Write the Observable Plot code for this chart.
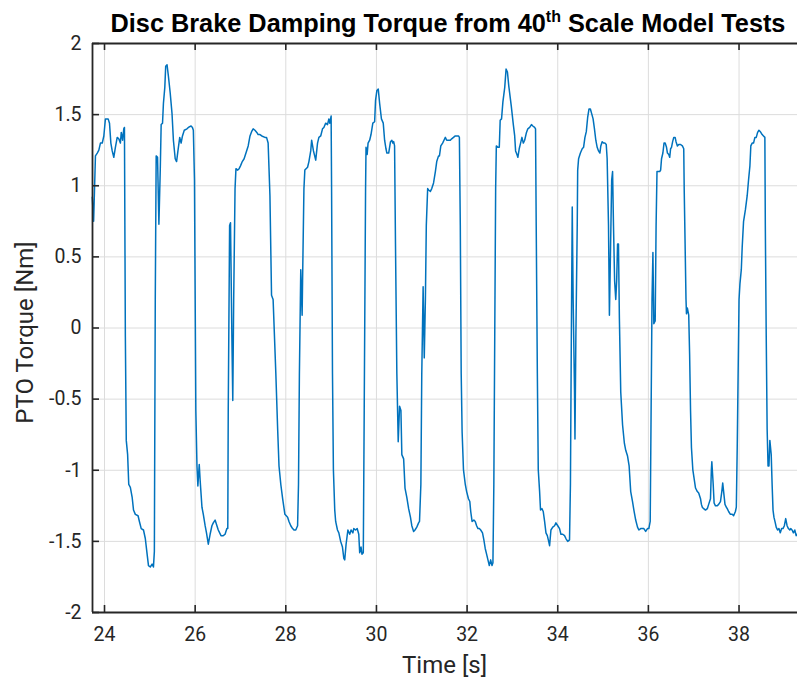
<!DOCTYPE html>
<html>
<head>
<meta charset="utf-8">
<script src="https://cdn.jsdelivr.net/npm/d3@7"></script>
<script src="https://cdn.jsdelivr.net/npm/@observablehq/plot@0.6"></script>
<style>
  html, body { margin: 0; padding: 0; background: #fff; }
  #chart svg { display: block; }
</style>
</head>
<body>
<div id="chart"></div>
<script>
const time = [
  23.73, 23.76, 23.80, 23.84, 23.875, 23.91, 23.95, 23.985, 24.02, 24.08,
  24.11, 24.14, 24.17, 24.205, 24.24, 24.28, 24.315, 24.35, 24.37, 24.40,
  24.425, 24.44, 24.46, 24.48, 24.51, 24.535, 24.57, 24.61, 24.64, 24.68,
  24.74, 24.77, 24.81, 24.86, 24.90, 24.94, 24.97, 25.01, 25.05, 25.08,
  25.10, 25.12, 25.14, 25.17, 25.20, 25.23, 25.25, 25.28, 25.30, 25.33,
  25.35, 25.38, 25.41, 25.45, 25.49, 25.52, 25.56, 25.59, 25.62, 25.66,
  25.69, 25.72, 25.76, 25.82, 25.85, 25.91, 25.94, 25.96, 25.985, 26.015,
  26.04, 26.06, 26.09, 26.11, 26.15, 26.18, 26.22, 26.25, 26.29, 26.33,
  26.37, 26.40, 26.44, 26.48, 26.51, 26.57, 26.62, 26.66, 26.70, 26.72,
  26.73, 26.76, 26.78, 26.81, 26.83, 26.85, 26.88, 26.90, 26.94, 26.97,
  27.00, 27.04, 27.08, 27.135, 27.17, 27.21, 27.245, 27.28, 27.32, 27.36,
  27.39, 27.43, 27.47, 27.54, 27.575, 27.61, 27.65, 27.685, 27.72, 27.78,
  27.82, 27.85, 27.89, 27.93, 27.98, 28.04, 28.07, 28.11, 28.15, 28.18,
  28.22, 28.26, 28.28, 28.30, 28.33, 28.36, 28.37, 28.40, 28.42, 28.48,
  28.51, 28.55, 28.57, 28.61, 28.66, 28.70, 28.73, 28.77, 28.81, 28.84,
  28.88, 28.92, 28.95, 28.97, 29.00, 29.01, 29.03, 29.05, 29.08, 29.10,
  29.14, 29.17, 29.21, 29.25, 29.28, 29.30, 29.33, 29.37, 29.41, 29.44,
  29.48, 29.50, 29.54, 29.575, 29.61, 29.63, 29.66, 29.68, 29.71, 29.73,
  29.76, 29.77, 29.795, 29.815, 29.85, 29.88, 29.92, 29.96, 29.98, 30.01,
  30.04, 30.07, 30.11, 30.15, 30.18, 30.21, 30.23, 30.27, 30.31, 30.34,
  30.36, 30.38, 30.40, 30.42, 30.45, 30.48, 30.51, 30.54, 30.56, 30.60,
  30.63, 30.67, 30.71, 30.75, 30.78, 30.82, 30.85, 30.89, 30.93, 30.95,
  30.98, 31.00, 31.03, 31.055, 31.08, 31.10, 31.13, 31.15, 31.19, 31.22,
  31.26, 31.30, 31.33, 31.37, 31.39, 31.42, 31.46, 31.49, 31.52, 31.55,
  31.59, 31.63, 31.66, 31.70, 31.74, 31.77, 31.81, 31.83, 31.85, 31.87,
  31.89, 31.92, 31.96, 31.99, 32.03, 32.06, 32.08, 32.11, 32.15, 32.18,
  32.21, 32.24, 32.27, 32.30, 32.34, 32.37, 32.40, 32.43, 32.46, 32.49,
  32.52, 32.55, 32.57, 32.59, 32.61, 32.63, 32.645, 32.68, 32.71, 32.73,
  32.76, 32.79, 32.83, 32.86, 32.89, 32.92, 32.975, 33.02, 33.05, 33.07,
  33.10, 33.12, 33.15, 33.18, 33.21, 33.24, 33.27, 33.31, 33.34, 33.38,
  33.42, 33.45, 33.49, 33.51, 33.525, 33.55, 33.57, 33.60, 33.62, 33.65,
  33.68, 33.71, 33.74, 33.77, 33.80, 33.82, 33.85, 33.89, 33.93, 33.96,
  34.00, 34.04, 34.07, 34.11, 34.15, 34.18, 34.22, 34.26, 34.28, 34.30,
  34.32, 34.34, 34.37, 34.38, 34.40, 34.43, 34.44, 34.46, 34.50, 34.54,
  34.57, 34.60, 34.63, 34.66, 34.69, 34.72, 34.75, 34.78, 34.81, 34.84,
  34.87, 34.90, 34.93, 34.95, 34.98, 35.01, 35.04, 35.07, 35.09, 35.12,
  35.14, 35.16, 35.19, 35.21, 35.23, 35.255, 35.28, 35.30, 35.32, 35.34,
  35.36, 35.39, 35.43, 35.47, 35.50, 35.54, 35.575, 35.61, 35.65, 35.68,
  35.72, 35.76, 35.79, 35.83, 35.87, 35.90, 35.94, 35.98, 36.01, 36.04,
  36.06, 36.08, 36.10, 36.12, 36.15, 36.17, 36.19, 36.22, 36.25, 36.27,
  36.29, 36.32, 36.345, 36.37, 36.40, 36.42, 36.45, 36.47, 36.49, 36.51,
  36.535, 36.56, 36.59, 36.61, 36.64, 36.67, 36.71, 36.75, 36.78, 36.79,
  36.81, 36.83, 36.84, 36.86, 36.89, 36.91, 36.93, 36.95, 36.98, 37.01,
  37.04, 37.08, 37.11, 37.15, 37.17, 37.19, 37.22, 37.26, 37.30, 37.33,
  37.37, 37.39, 37.40, 37.43, 37.45, 37.48, 37.52, 37.55, 37.59, 37.62,
  37.64, 37.66, 37.69, 37.72, 37.74, 37.77, 37.81, 37.85, 37.88, 37.92,
  37.94, 37.96, 37.98, 38.00, 38.02, 38.05, 38.07, 38.10, 38.14, 38.18,
  38.21, 38.24, 38.26, 38.29, 38.32, 38.35, 38.38, 38.41, 38.44, 38.47,
  38.51, 38.54, 38.57, 38.58, 38.60, 38.62, 38.64, 38.66, 38.68, 38.71,
  38.73, 38.75, 38.77, 38.80, 38.82, 38.85, 38.88, 38.91, 38.94, 38.97,
  39.00, 39.03, 39.06, 39.09, 39.12, 39.14, 39.17, 39.20, 39.23, 39.26,
  39.28
];
const torque = [
  0.92, 0.75, 1.21, 1.23, 1.25, 1.30, 1.30, 1.35, 1.47, 1.47,
  1.44, 1.30, 1.245, 1.20, 1.27, 1.34, 1.33, 1.30, 1.375, 1.32,
  1.40, 1.41, -0.06, -0.79, -0.89, -1.10, -1.12, -1.19, -1.28, -1.31,
  -1.32, -1.36, -1.41, -1.42, -1.48, -1.59, -1.67, -1.68, -1.66, -1.68,
  -1.57, 0.20, 1.21, 1.20, 0.73, 1.11, 1.43, 1.44, 1.58, 1.69,
  1.84, 1.85, 1.77, 1.65, 1.505, 1.32, 1.19, 1.17, 1.245, 1.34,
  1.30, 1.35, 1.39, 1.40, 1.41, 1.42, 1.41, 1.39, 1.04, -0.58,
  -0.97, -1.11, -0.96, -1.07, -1.26, -1.31, -1.39, -1.44, -1.52, -1.45,
  -1.39, -1.37, -1.35, -1.39, -1.42, -1.46, -1.46, -1.45, -1.41, -1.41,
  -0.58, 0.72, 0.74, -0.06, -0.51, 0.20, 0.98, 1.12, 1.11, 1.12,
  1.14, 1.17, 1.19, 1.245, 1.28, 1.35, 1.38, 1.40, 1.39, 1.375,
  1.36, 1.36, 1.35, 1.34, 1.34, 1.30, 0.93, 0.23, 0.20, -0.32,
  -0.71, -0.97, -1.10, -1.20, -1.31, -1.33, -1.36, -1.39, -1.41, -1.42,
  -1.42, -1.39, -1.10, -0.32, 0.41, 0.09, 0.33, 0.98, 1.11, 1.13,
  1.17, 1.245, 1.32, 1.245, 1.18, 1.30, 1.34, 1.35, 1.40, 1.41,
  1.44, 1.43, 1.47, 1.44, 1.49, 0.98, -0.32, -0.995, -1.28, -1.36,
  -1.42, -1.44, -1.50, -1.54, -1.62, -1.63, -1.52, -1.42, -1.45, -1.42,
  -1.44, -1.41, -1.42, -1.41, -1.45, -1.58, -1.54, -1.59, -1.58, -0.58,
  0.98, 1.27, 1.22, 1.30, 1.32, 1.36, 1.44, 1.45, 1.60, 1.67,
  1.68, 1.58, 1.47, 1.44, 1.32, 1.26, 1.23, 1.23, 1.31, 1.32,
  1.30, 1.31, 1.28, 0.59, -0.32, -0.80, -0.55, -0.58, -0.89, -0.92,
  -1.125, -1.19, -1.27, -1.33, -1.39, -1.43, -1.42, -1.40, -1.37, -1.36,
  -1.10, -0.32, 0.29, -0.21, 0.20, 0.72, 0.98, 0.97, 0.96, 0.98,
  1.02, 1.10, 1.17, 1.21, 1.21, 1.28, 1.30, 1.32, 1.34, 1.32,
  1.32, 1.32, 1.33, 1.34, 1.35, 1.35, 1.35, 1.34, 0.72, -0.32,
  -0.73, -0.995, -1.10, -1.15, -1.20, -1.22, -1.29, -1.36, -1.35, -1.36,
  -1.39, -1.41, -1.41, -1.42, -1.44, -1.49, -1.55, -1.59, -1.63, -1.67,
  -1.63, -1.67, -1.65, -1.10, -0.06, 0.98, 1.28, 1.27, 1.27, 1.46,
  1.47, 1.59, 1.69, 1.82, 1.80, 1.70, 1.56, 1.43, 1.35, 1.245,
  1.22, 1.20, 1.26, 1.30, 1.34, 1.30, 1.32, 1.375, 1.40, 1.41,
  1.43, 1.42, 1.41, 1.40, 0.72, -0.32, -0.995, -1.15, -1.28, -1.27,
  -1.29, -1.36, -1.44, -1.46, -1.50, -1.53, -1.42, -1.40, -1.39, -1.37,
  -1.39, -1.41, -1.45, -1.45, -1.46, -1.48, -1.50, -1.49, -1.10, -0.06,
  0.85, 0.20, -0.45, -0.78, -0.06, 0.72, 1.11, 1.19, 1.23, 1.26,
  1.27, 1.34, 1.38, 1.48, 1.54, 1.54, 1.505, 1.47, 1.40, 1.32,
  1.27, 1.245, 1.23, 1.28, 1.31, 1.30, 1.30, 1.29, 1.19, 0.72,
  0.09, 0.46, 1.04, 1.10, 0.72, 0.33, 0.20, 0.33, 0.59, 0.59,
  0.07, -0.45, -0.68, -0.81, -0.86, -0.90, -0.97, -1.15, -1.22, -1.28,
  -1.35, -1.40, -1.42, -1.41, -1.41, -1.41, -1.43, -1.41, -1.41, -1.36,
  -0.58, 0.20, 0.53, 0.03, 0.05, 0.72, 1.10, 1.10, 1.10, 1.11,
  1.19, 1.23, 1.30, 1.30, 1.27, 1.23, 1.22, 1.20, 1.26, 1.27,
  1.31, 1.34, 1.34, 1.31, 1.28, 1.29, 1.29, 1.28, 1.26, 0.98,
  0.59, 0.20, 0.10, 0.14, 0.09, -0.19, -0.58, -0.84, -0.995, -1.06,
  -1.125, -1.15, -1.16, -1.20, -1.24, -1.26, -1.27, -1.28, -1.27, -1.24,
  -1.20, -0.995, -0.94, -1.10, -1.23, -1.25, -1.25, -1.24, -1.22, -1.15,
  -1.09, -1.15, -1.24, -1.26, -1.27, -1.29, -1.31, -1.31, -1.32, -1.29,
  -1.26, -0.84, -0.32, 0.20, 0.31, 0.41, 0.57, 0.75, 0.83, 0.93,
  1.04, 1.14, 1.28, 1.30, 1.30, 1.34, 1.34, 1.375, 1.39, 1.38,
  1.36, 1.35, 1.34, 0.72, -0.06, -0.71, -0.97, -0.97, -0.79, -0.89,
  -1.10, -1.28, -1.33, -1.37, -1.40, -1.42, -1.41, -1.44, -1.41, -1.41,
  -1.39, -1.34, -1.39, -1.41, -1.42, -1.41, -1.42, -1.44, -1.42, -1.46,
  -1.45
];
const xTicks = [24, 26, 28, 30, 32, 34, 36, 38];
const yTicks = [-2, -1.5, -1, -0.5, 0, 0.5, 1, 1.5, 2];
const xDomain = [23.735, 39.29];
const yDomain = [-2, 2];
const titleMain = "Disc Brake Damping Torque from 40";
const titleSup = "th";
const titleRest = " Scale Model Tests";
const xLabel = "Time [s]";
const yLabel = "PTO Torque [Nm]";

const data = time.map((t, i) => ({t, v: torque[i]}));

const W = 797, H = 679;
const mL = 92, mR = 0, mT = 43, mB = 67;
const innerW = W - mL - mR, innerH = H - mT - mB;
const axisColor = "#262626";
const gridColor = "#dcdcdc";

const chart = Plot.plot({
  width: W,
  height: H,
  marginLeft: mL,
  marginRight: mR,
  marginTop: mT,
  marginBottom: mB,
  style: {fontFamily: "Roboto, 'Liberation Sans', sans-serif", fontSize: "19.5px", color: axisColor, background: "#fff"},
  x: {domain: xDomain, ticks: xTicks, tickSize: 0, tickPadding: 15, tickFormat: d => String(d), label: null},
  y: {domain: yDomain, ticks: yTicks, tickSize: 0, tickPadding: 11, tickFormat: d => String(d), label: null},
  marks: [
    Plot.ruleX(xTicks, {x: d => d, stroke: gridColor, strokeWidth: 1}),
    Plot.ruleY(yTicks, {y: d => d, stroke: gridColor, strokeWidth: 1}),
    Plot.line(data, {x: "t", y: "v", stroke: "#0072BD", strokeWidth: 1.5, strokeLinejoin: "round"}),
    // inward tick marks
    Plot.tickX(xTicks, {x: d => d, stroke: axisColor, strokeWidth: 1.6, insetTop: innerH - 7}),
    Plot.tickX(xTicks, {x: d => d, stroke: axisColor, strokeWidth: 1.6, insetBottom: innerH - 7}),
    Plot.tickY(yTicks, {y: d => d, stroke: axisColor, strokeWidth: 1.6, insetRight: innerW - 7}),
    // box (top, bottom, left)
    Plot.ruleY(yDomain, {y: d => d, stroke: axisColor, strokeWidth: 1.8}),
    Plot.ruleX([xDomain[0]], {x: d => d, stroke: axisColor, strokeWidth: 1.8})
  ]
});

document.getElementById("chart").appendChild(chart);

const svg = d3.select(chart);
const title = svg.append("text")
  .attr("x", 448)
  .attr("y", 32)
  .attr("text-anchor", "middle")
  .attr("font-family", "'Liberation Sans', Arial, sans-serif")
  .attr("font-weight", "bold")
  .attr("font-size", 25.3)
  .attr("fill", "#000");
title.append("tspan").text(titleMain);
title.append("tspan").attr("dy", -10).attr("font-size", 16).text(titleSup);
title.append("tspan").attr("dy", 10).text(titleRest);

svg.append("text")
  .attr("x", mL + innerW / 2)
  .attr("y", 673)
  .attr("text-anchor", "middle")
  .attr("font-family", "Roboto, 'Liberation Sans', sans-serif")
  .attr("font-size", 24)
  .attr("fill", axisColor)
  .text(xLabel);

svg.append("text")
  .attr("transform", `translate(33, ${mT + innerH / 2 + 5}) rotate(-90)`)
  .attr("text-anchor", "middle")
  .attr("font-family", "Roboto, 'Liberation Sans', sans-serif")
  .attr("font-size", 24)
  .attr("fill", axisColor)
  .text(yLabel);
</script>
</body>
</html>
